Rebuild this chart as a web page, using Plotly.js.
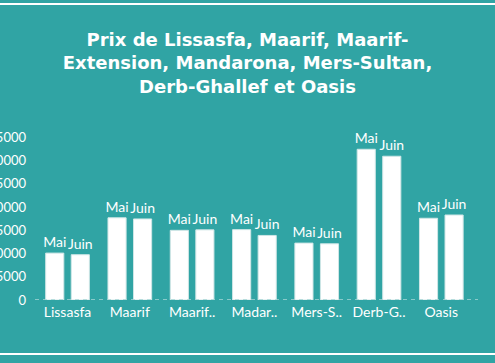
<!DOCTYPE html>
<html><head><meta charset="utf-8">
<script src="https://cdn.plot.ly/plotly-3.0.1.min.js"></script>
<style>html,body{margin:0;padding:0;background:#30a4a4;}#chart{width:495px;height:363px;}</style>
</head><body><div id="chart"></div>
<script>
const categories = ["Lissasfa","Maarif","Maarif-Extension","Mandarona","Mers-Sultan","Derb-Ghallef","Oasis"];
const tickLabels = ["Lissasfa","Maarif","Maarif..","Madar..","Mers-S..","Derb-G..","Oasis"];
const maiValues  = [10100,17700,15000,15150,12250,32450,17600];
const juinValues = [9750,17450,15100,13900,12100,30950,18300];
const seriesNames = ["Mai","Juin"];
const yTicks = [0,5000,10000,15000,20000,25000,30000,35000];

const bg = "#30a4a4";
const mkBar = (vals, name) => ({
  type: "bar", x: categories, y: vals, name: name,
  text: vals.map(() => name), textposition: "outside", cliponaxis: false,
  constraintext: "none",
  textfont: {family: "Lato", size: 14, color: "#ffffff"},
  marker: {color: "#ffffff", line: {color: "#cfe6e6", width: 1}},
  hoverinfo: "none"
});

const data = [mkBar(maiValues, seriesNames[0]), mkBar(juinValues, seriesNames[1])];
const layout = {
  width: 495, height: 363,
  paper_bgcolor: bg, plot_bgcolor: bg,
  margin: {l: 35, r: 17, t: 130, b: 63},
  showlegend: false,
  barmode: "group", bargap: 0.18, bargroupgap: 0.29,
  title: {
    text: "<b>Prix de Lissasfa, Maarif, Maarif-<br>Extension, Mandarona, Mers-Sultan,<br>Derb-Ghallef et Oasis</b>",
    font: {family: "DejaVu Sans", size: 18, color: "#ffffff"},
    x: 0.5, xanchor: "center", xref: "container",
    y: 1 - 46/363, yanchor: "top", yref: "container"
  },
  xaxis: {
    type: "category", tickvals: categories, ticktext: tickLabels,
    range: [-0.522, 6.589], showgrid: false, zeroline: false, showline: false,
    ticklabelstandoff: 2,
    tickfont: {family: "Lato", size: 14, color: "#ffffff"}
  },
  yaxis: {
    range: [0, 36600], tickvals: yTicks, ticktext: yTicks.map(String),
    showgrid: false, zeroline: false, showline: false,
    ticklabelstandoff: 8,
    tickfont: {family: "Lato", size: 13, color: "#ffffff"}
  },
  shapes: [
    {type: "line", xref: "paper", yref: "y", x0: 0, x1: 1, y0: 0, y1: 0,
     line: {color: "#a6d6d6", width: 1.5, dash: "4px,4px"}},
    {type: "line", xref: "paper", yref: "paper", x0: -0.1, x1: 1.1, y0: 1.741, y1: 1.741,
     line: {color: "#ffffff", width: 2}},
    {type: "line", xref: "paper", yref: "paper", x0: -0.1, x1: 1.1, y0: -0.318, y1: -0.318,
     line: {color: "#ffffff", width: 2}}
  ]
};
Plotly.newPlot("chart", data, layout, {displayModeBar: false, staticPlot: true});
</script></body></html>
